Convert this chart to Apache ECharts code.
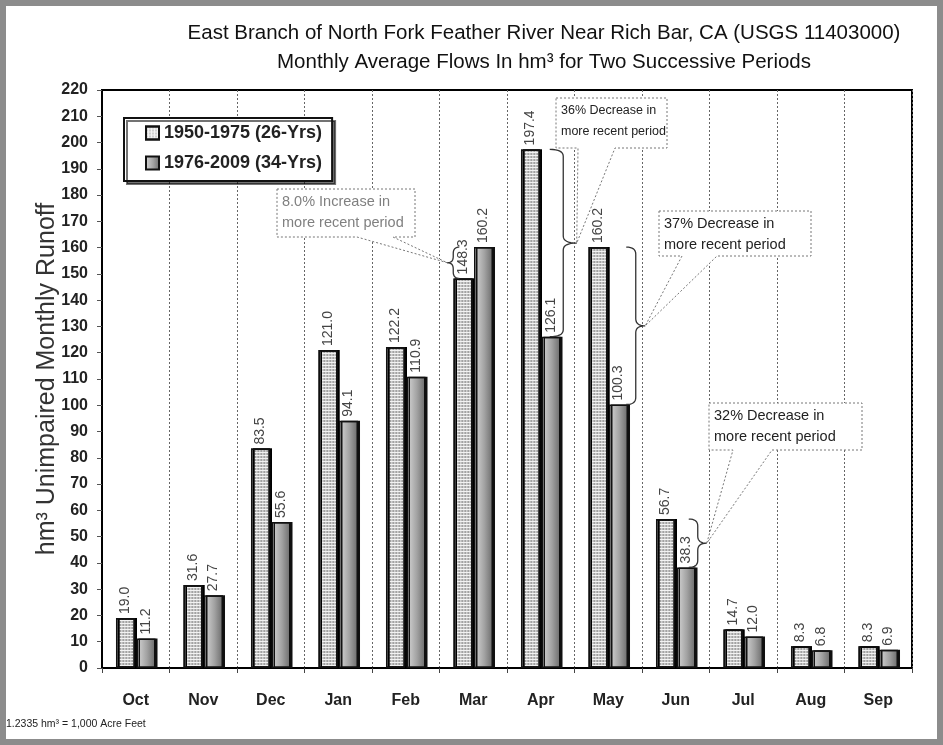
<!DOCTYPE html>
<html><head><meta charset="utf-8">
<script src="https://cdn.jsdelivr.net/npm/echarts@6/dist/echarts.min.js"></script>
<style>html,body{margin:0;padding:0;background:#fff}#c{width:943px;height:745px}</style>
</head><body><div id="c"></div>
<script>
// ---- data ----
const months = ['Oct','Nov','Dec','Jan','Feb','Mar','Apr','May','Jun','Jul','Aug','Sep'];
const period1 = [19.0, 31.6, 83.5, 121.0, 122.2, 148.3, 197.4, 160.2, 56.7, 14.7, 8.3, 8.3];
const period2 = [11.2, 27.7, 55.6, 94.1, 110.9, 160.2, 126.1, 100.3, 38.3, 12.0, 6.8, 6.9];
const seriesNames = ['1950-1975 (26-Yrs)', '1976-2009 (34-Yrs)'];
const titleLines = ['East Branch of North Fork Feather River Near Rich Bar, CA (USGS 11403000)',
                    'Monthly Average Flows In hm\u00B3 for Two Successive Periods'];
const yAxisName = 'hm\u00B3 Unimpaired Monthly Runoff';
const footnote = '1.2335 hm\u00B3 = 1,000 Acre Feet';
const calloutMonths = ['Mar', 'Apr', 'May', 'Jun'];
const calloutLine1 = ['8.0% Increase in', '36% Decrease in', '37% Decrease in', '32% Decrease in'];
const calloutLine2 = ['more recent period', 'more recent period', 'more recent period', 'more recent period'];

const FF = '"Liberation Sans", Arial, Helvetica, sans-serif';
const chart = echarts.init(document.getElementById('c'), null, {renderer: 'canvas'});

const labelCfg = {
  show: true, position: 'top', rotate: 90, align: 'left', verticalAlign: 'middle',
  distance: 4, fontSize: 14, color: '#444', fontFamily: FF,
  formatter: p => p.value.toFixed(1)
};

chart.setOption({
  backgroundColor: '#fff',
  animation: false,
  grid: {left: 102, right: 31, top: 90, bottom: 77, show: true, borderColor: '#000', borderWidth: 2},
  legend: {
    orient: 'vertical', left: 124, top: 118, data: seriesNames,
    itemWidth: 13, itemHeight: 13, itemGap: 12, padding: [6, 10, 9, 21],
    borderColor: '#111', borderWidth: 2, backgroundColor: '#fff',
    shadowColor: 'rgba(0,0,0,0.55)', shadowOffsetX: 3, shadowOffsetY: 3, shadowBlur: 0,
    icon: 'rect',
    textStyle: {fontFamily: FF, fontWeight: 'bold', fontSize: 18, color: '#222'}
  },
  xAxis: {
    type: 'category', data: months, boundaryGap: true,
    axisLine: {lineStyle: {color: '#000', width: 2}},
    axisTick: {show: true, interval: 0, length: 5, lineStyle: {color: '#444'}},
    splitLine: {show: true, interval: 0, lineStyle: {color: '#666', type: [2, 2], width: 1}},
    axisLabel: {fontFamily: FF, fontWeight: 'bold', fontSize: 16, color: '#222', margin: 25}
  },
  yAxis: {
    type: 'value', min: 0, max: 220, interval: 10,
    name: yAxisName, nameLocation: 'middle', nameGap: 42, nameRotate: 90, nameMoveOverlap: false,
    nameTextStyle: {fontFamily: FF, fontSize: 25, color: '#333'},
    axisLine: {show: true, lineStyle: {color: '#000', width: 2}},
    axisTick: {show: true, length: 5, lineStyle: {color: '#555'}},
    splitLine: {show: false},
    axisLabel: {fontFamily: FF, fontWeight: 'bold', fontSize: 16, color: '#222', margin: 14}
  },
  series: [
    {
      type: 'bar', name: seriesNames[0], data: period1, barWidth: 19, barGap: '8%',
      itemStyle: {
        color: '#f2f2f2', borderColor: '#111', borderWidth: 1.5,
        shadowColor: '#111', shadowOffsetX: 2, shadowOffsetY: 0, shadowBlur: 0,
        decal: {symbol: 'rect', symbolSize: 0.7, dashArrayX: [2, 1], dashArrayY: [2, 1], color: 'rgba(90,90,90,0.45)'}
      },
      label: labelCfg
    },
    {
      type: 'bar', name: seriesNames[1], data: period2, barWidth: 19,
      itemStyle: {
        color: new echarts.graphic.LinearGradient(0, 0, 1, 0, [
          {offset: 0, color: '#d8d8d8'}, {offset: 0.55, color: '#a2a2a2'}, {offset: 1, color: '#6a6a6a'}
        ]),
        borderColor: '#111', borderWidth: 1.5,
        shadowColor: '#111', shadowOffsetX: 2, shadowOffsetY: 0, shadowBlur: 0
      },
      label: labelCfg
    }
  ]
});

// ---- annotations (braces + callouts) positioned from data via the axes ----
function px(cat, val) { return chart.convertToPixel({gridIndex: 0}, [cat, val]); }
function quad(p0, c, p1, out) {
  for (let k = 0; k <= 8; k++) {
    const t = k / 8, u = 1 - t;
    out.push([u * u * p0[0] + 2 * u * t * c[0] + t * t * p1[0], u * u * p0[1] + 2 * u * t * c[1] + t * t * p1[1]]);
  }
}
function bracePoints(x0, y1, y2, w) {
  const xb = x0 + w / 2, xt = x0 + w, ym = (y1 + y2) / 2, r = Math.min(7, (y2 - y1) / 5);
  const pts = [];
  quad([x0, y1], [xb, y1], [xb, y1 + r], pts);
  quad([xb, ym - r], [xb, ym], [xt, ym], pts);
  quad([xt, ym], [xb, ym], [xb, ym + r], pts);
  quad([xb, y2 - r], [xb, y2], [x0, y2], pts);
  return pts;
}
// brace horizontal layout relative to category centre: [startOffset, width(sign = direction)]
const braceLayout = [[-14, -12], [9, 27], [18, 19], [13, 18]];
// callout box layout: [x1, y1, x2, y2, baseX1, baseX2, fontSize, color]
const boxLayout = [
  [277, 189, 415, 237, 357, 393, 14.5, '#808080'],
  [556, 98, 667, 148, 578, 615, 12.5, '#222'],
  [659, 211, 811, 256, 682, 717, 14.5, '#222'],
  [709, 403, 862, 450, 733, 772, 14.5, '#222']
];
const graphics = [];
calloutMonths.forEach((m, i) => {
  const idx = months.indexOf(m);
  const a = px(idx, period1[idx]), b = px(idx, period2[idx]);
  const y1 = Math.min(a[1], b[1]), y2 = Math.max(a[1], b[1]);
  const cx = a[0];
  const [off, w] = braceLayout[i];
  const x0 = cx + off;
  graphics.push({type: 'polyline', z: 120, shape: {points: bracePoints(x0, y1, y2, w)},
                 style: {fill: null, stroke: '#333', lineWidth: 1.3}});
  const tip = [x0 + w, (y1 + y2) / 2];
  const [bx1, by1, bx2, by2, p1, p2, fs, col] = boxLayout[i];
  graphics.push({type: 'polygon', z: 110,
    shape: {points: [[bx1, by1], [bx2, by1], [bx2, by2], [p2, by2], tip, [p1, by2], [bx1, by2]]},
    style: {fill: '#fff', stroke: '#777', lineWidth: 1, lineDash: [2, 2]}});
  graphics.push({type: 'text', z: 130, x: bx1 + 5, y: by1 + 13,
    style: {text: calloutLine1[i], font: `${fs}px ${FF}`, fill: col, verticalAlign: 'middle'}});
  graphics.push({type: 'text', z: 130, x: bx1 + 5, y: by1 + 34,
    style: {text: calloutLine2[i], font: `${fs}px ${FF}`, fill: col, verticalAlign: 'middle'}});
});
graphics.push({type: 'text', z: 130, x: 544, y: 33,
  style: {text: titleLines[0], font: `20.5px ${FF}`, fill: '#111', align: 'center', verticalAlign: 'middle'}});
graphics.push({type: 'text', z: 130, x: 544, y: 62,
  style: {text: titleLines[1], font: `20.5px ${FF}`, fill: '#111', align: 'center', verticalAlign: 'middle'}});
graphics.push({type: 'text', z: 130, x: 6, y: 724,
  style: {text: footnote, font: `10.5px ${FF}`, fill: '#222', verticalAlign: 'middle'}});
graphics.push({type: 'rect', z: 200, shape: {x: 3, y: 3, width: 937, height: 739},
  style: {fill: 'none', stroke: '#8c8c8c', lineWidth: 6}});
chart.setOption({graphic: graphics});
</script>
</body></html>
